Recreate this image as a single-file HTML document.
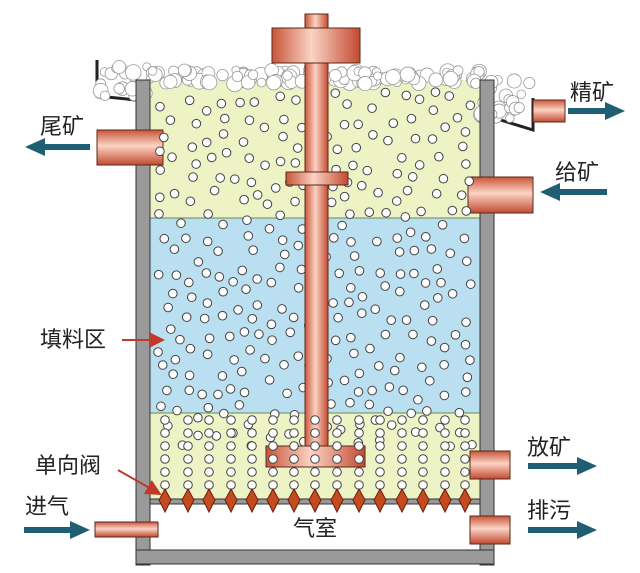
<!DOCTYPE html>
<html><head><meta charset="utf-8"><style>
body{margin:0;background:#fff;width:640px;height:568px;overflow:hidden}
text{font-family:"Liberation Sans","Noto Sans CJK SC",sans-serif;font-size:22px;fill:#222}
</style></head><body>
<svg id="s" width="640" height="568" viewBox="0 0 640 568" xmlns="http://www.w3.org/2000/svg">
<defs>
<linearGradient id="cu" x1="0" x2="1" y1="0" y2="0">
<stop offset="0" stop-color="#c9553a"/><stop offset="0.45" stop-color="#fbd3c4"/><stop offset="1" stop-color="#c24a30"/></linearGradient>
<linearGradient id="cuv" x1="0" x2="0" y1="0" y2="1">
<stop offset="0" stop-color="#c9553a"/><stop offset="0.45" stop-color="#fbd3c4"/><stop offset="1" stop-color="#c24a30"/></linearGradient>
<marker id="ah" markerWidth="8" markerHeight="8" refX="7" refY="4" orient="auto"><path d="M0,0 L8,4 L0,8 z" fill="#c0392b"/></marker>
</defs>
<rect x="150" y="80" width="330" height="140" fill="#eef3c6"/>
<rect x="150" y="218" width="330" height="196" fill="#b9dff0"/>
<rect x="150" y="413" width="330" height="87" fill="#eef3c6"/>
<line x1="150" y1="218" x2="480" y2="218" stroke="#6a8a5a" stroke-width="1"/>
<line x1="150" y1="413" x2="480" y2="413" stroke="#6a8a5a" stroke-width="1"/>
<path d="M97,60 L97,96 L136,100" fill="none" stroke="#222" stroke-width="3"/>
<path d="M494,118 L533,130 L533,98" fill="none" stroke="#222" stroke-width="3"/>
<g id="foam"></g>
<rect x="150" y="504" width="330" height="46" fill="#fff"/>
<rect x="150" y="499" width="330" height="5" fill="#999" stroke="#333" stroke-width="1"/>
<rect x="136" y="80" width="14" height="485" fill="#9a9a9a" stroke="#333"/>
<rect x="480" y="80" width="14" height="485" fill="#9a9a9a" stroke="#333"/>
<rect x="136" y="550" width="358" height="14" fill="#9a9a9a" stroke="#333"/>
<rect x="97" y="130" width="66" height="35" fill="url(#cuv)" stroke="#5a2a1a"/>
<rect x="533" y="100" width="32" height="22" fill="url(#cuv)" stroke="#5a2a1a"/>
<rect x="468" y="177" width="65" height="36" fill="url(#cuv)" stroke="#5a2a1a"/>
<rect x="470" y="451" width="40" height="28" fill="url(#cuv)" stroke="#5a2a1a"/>
<rect x="470" y="516" width="40" height="28" fill="url(#cuv)" stroke="#5a2a1a"/>
<rect x="95" y="522" width="63" height="15" fill="url(#cuv)" stroke="#5a2a1a"/>
<g id="bub"></g>
<rect x="305" y="14" width="23" height="445" fill="url(#cu)" stroke="#5a2a1a"/>
<rect x="272" y="28" width="88" height="35" fill="url(#cu)" stroke="#5a2a1a"/>
<rect x="286" y="172" width="62" height="13" fill="url(#cu)" stroke="#5a2a1a"/>
<rect x="266" y="446" width="99" height="21" fill="url(#cu)" stroke="#5a2a1a"/>
<g id="bub2"></g>
<g id="valves"></g>
<g fill="#1f5f73">
<path d="M90,144 L45,144 L45,138 L25,147 L45,156 L45,150 L90,150z"/>
<path d="M568,108 L605,108 L605,102 L625,111 L605,120 L605,114 L568,114z"/>
<path d="M607,189 L560,189 L560,183 L540,192 L560,201 L560,195 L607,195z"/>
<path d="M528,463 L577,463 L577,457 L597,466 L577,475 L577,469 L528,469z"/>
<path d="M528,527 L577,527 L577,521 L597,530 L577,539 L577,533 L528,533z"/>
<path d="M24,527 L70,527 L70,521 L90,530 L70,539 L70,533 L24,533z"/>
</g>
<text x="40" y="134">尾矿</text>
<text x="570" y="100">精矿</text>
<text x="555" y="180">给矿</text>
<text x="527" y="455">放矿</text>
<text x="527" y="518">排污</text>
<text x="25" y="514">进气</text>
<text x="40" y="347">填料区</text>
<text x="35" y="473">单向阀</text>
<text x="293" y="536">气室</text>
<line x1="122" y1="340" x2="163" y2="340" stroke="#c0392b" stroke-width="2" marker-end="url(#ah)"/>
<line x1="118" y1="470" x2="160" y2="494" stroke="#c0392b" stroke-width="2" marker-end="url(#ah)"/>
</svg>
<script>
var NS="http://www.w3.org/2000/svg";
var seed=7;function r(){seed=(seed*16807)%2147483647;return seed/2147483647;}
function c(g,x,y,rr,fill,st,sw){var e=document.createElementNS(NS,"circle");e.setAttribute("cx",x);e.setAttribute("cy",y);e.setAttribute("r",rr);e.setAttribute("fill",fill||"#fff");e.setAttribute("stroke",st||"#444");e.setAttribute("stroke-width",sw||"1");document.getElementById(g).appendChild(e);}
for(var i=0;i<160;i++){var x=100+r()*432,y;
 if(x<150)y=64+r()*32;else if(x>480)y=80+r()*40;else y=70+r()*14;
 c("foam",x,y,4+r()*4,"#fff","#999","0.8");}
var pts=[];
for(var i=0;i<2000&&pts.length<300;i++){var x=158+r()*314,y=92+r()*355;
 var ok=true;for(var j=0;j<pts.length;j++){var dx=pts[j][0]-x,dy=pts[j][1]-y;if(dx*dx+dy*dy<180){ok=false;break;}}
 if(ok){pts.push([x,y]);c("bub",x,y,4.3);}}
var xs=[165,188,209,231,252,273,294,315,337,359,380,402,423,445,465];
xs.forEach(function(x){for(var y=420;y<490;y+=13)c("bub2",x,y,4.3);});
xs.forEach(function(x){var p=document.createElementNS(NS,"path");p.setAttribute("d","M"+x+",489 L"+(x+6)+",500 L"+x+",512 L"+(x-6)+",500z");p.setAttribute("fill","#c44a22");p.setAttribute("stroke","#6a1f0a");document.getElementById("valves").appendChild(p);});
</script>
</body></html>
